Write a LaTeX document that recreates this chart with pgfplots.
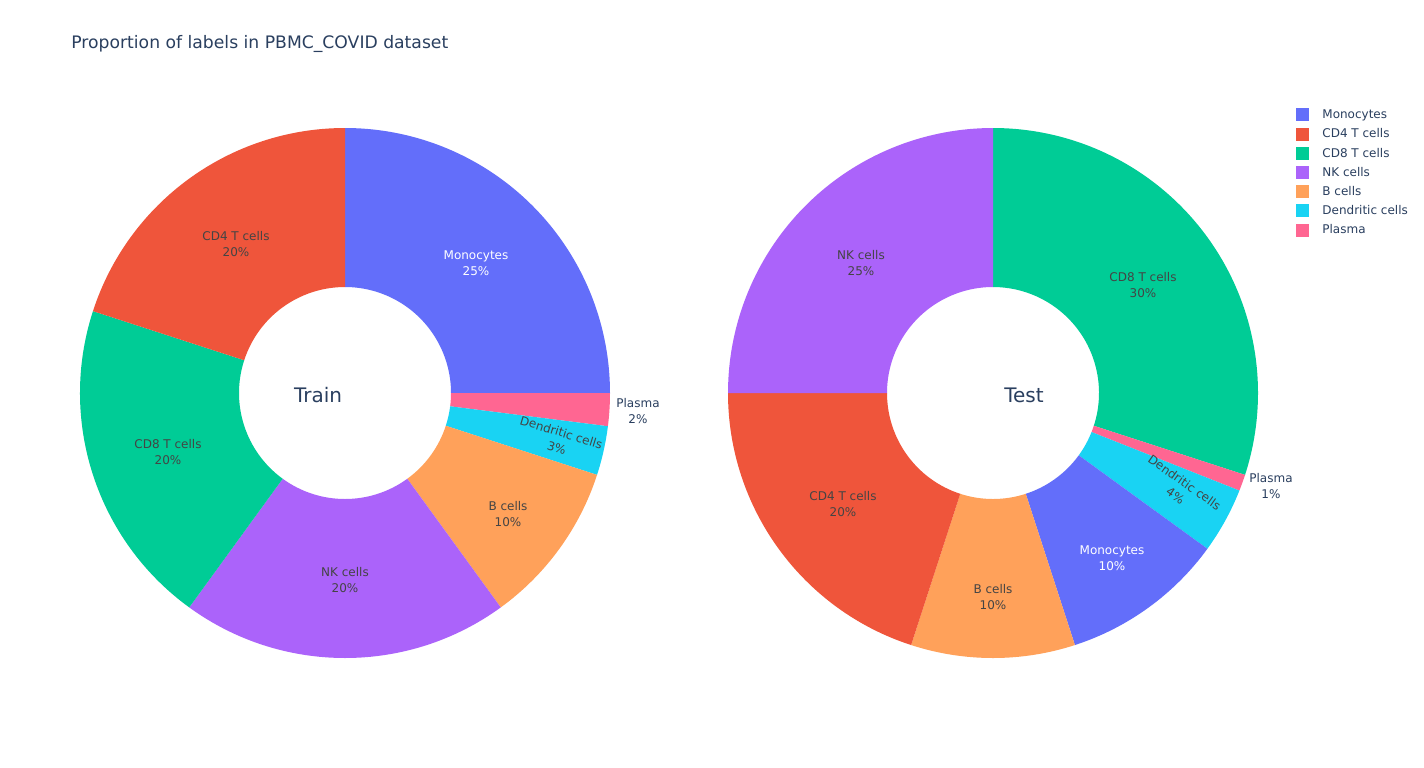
\documentclass[border=0pt]{standalone}
\usepackage{fontspec}
\setmainfont{DejaVu Sans}
\usepackage{pgfplots}
\usepackage{pgfplotstable}
\pgfplotsset{compat=1.18}
\definecolor{cMono}{HTML}{636EFA}
\definecolor{cCDf}{HTML}{EF553B}
\definecolor{cCDe}{HTML}{00CC96}
\definecolor{cNK}{HTML}{AB63FA}
\definecolor{cB}{HTML}{FFA15A}
\definecolor{cDC}{HTML}{19D3F3}
\definecolor{cPl}{HTML}{FF6692}
\definecolor{tdark}{HTML}{444444}
\definecolor{tout}{HTML}{2A3F5F}
\newcommand\lab{\fontsize{6}{8}\selectfont}

% name, share (%), colour, text colour, label x, label y (px), label rotation
\pgfplotstableread[col sep=comma]{
name,value,col,tcol,lx,ly,rot
Monocytes,25,cMono,white,476,262,0
Plasma,2,cPl,tout,638,410,0
Dendritic cells,3,cDC,tdark,559,439,-17
B cells,10,cB,tdark,508,513,0
NK cells,20,cNK,tdark,345,579,0
CD8 T cells,20,cCDe,tdark,168,451,0
CD4 T cells,20,cCDf,tdark,236,243,0
}\traintab
\pgfplotstableread[col sep=comma]{
name,value,col,tcol,lx,ly,rot
CD8 T cells,30,cCDe,tdark,1143,284,0
Plasma,1,cPl,tout,1271,485,0
Dendritic cells,4,cDC,tdark,1180,488,-35
Monocytes,10,cMono,white,1112,557,0
B cells,10,cB,tdark,993,596,0
CD4 T cells,20,cCDf,tdark,843,503,0
NK cells,25,cNK,tdark,861,262,0
}\testtab

\def\Ro{132.5pt}
\def\Ri{53pt}
\newcommand\drawslices[3]{%
  \def\cum{0}%
  \pgfplotsforeachungrouped \i in {0,...,6}{%
    \pgfplotstablegetelem{\i}{value}\of{#1}\let\v\pgfplotsretval
    \pgfplotstablegetelem{\i}{col}\of{#1}\let\c\pgfplotsretval
    \pgfmathsetmacro\aA{90-3.6*\cum}%
    \pgfmathsetmacro\cum{\cum+\v}%
    \pgfmathsetmacro\aB{90-3.6*\cum}%
    \edef\cmd{\noexpand\fill[\c] ([shift={(\aA:\Ro)}]axis cs:#2,#3) arc[start angle=\aA,end angle=\aB,radius=\Ro] -- ([shift={(\aB:\Ri)}]axis cs:#2,#3) arc[start angle=\aB,end angle=\aA,radius=\Ri] -- cycle;}%
    \cmd
  }}
\newcommand\drawlabels[1]{%
  \pgfplotsforeachungrouped \i in {0,...,6}{%
    \pgfplotstablegetelem{\i}{value}\of{#1}\let\v\pgfplotsretval
    \pgfplotstablegetelem{\i}{name}\of{#1}\let\nm\pgfplotsretval
    \pgfplotstablegetelem{\i}{tcol}\of{#1}\let\tc\pgfplotsretval
    \pgfplotstablegetelem{\i}{lx}\of{#1}\let\lx\pgfplotsretval
    \pgfplotstablegetelem{\i}{ly}\of{#1}\let\ly\pgfplotsretval
    \pgfplotstablegetelem{\i}{rot}\of{#1}\let\rot\pgfplotsretval
    \edef\cmd{\noexpand\node[text=\tc,rotate=\rot,align=center,inner sep=0pt,font=\noexpand\lab] at (axis cs:\lx,\ly+1) {\nm\noexpand\\\v\noexpand\%};}%
    \cmd
  }}

\begin{document}
\begin{tikzpicture}
\begin{axis}[
  scale only axis, width=712pt, height=383.5pt,
  xmin=0, xmax=1424, ymin=0, ymax=767, y dir=reverse,
  hide axis, clip=false,
  legend style={draw=none, fill=none, at={(axis cs:1296,107)}, anchor=north west,
    inner sep=0pt, font=\lab, text=tout, row sep=2.2pt, column sep=6pt,
    nodes={inner sep=0.6pt, text height=5pt, text depth=1.2pt}},
  legend cell align=left,
  legend image code/.code={\fill[#1] (0pt,-3pt) rectangle (6pt,3pt);},
]
\fill[white] (axis cs:0,0) rectangle (axis cs:1424,767);
\addlegendimage{cMono}\addlegendentry{Monocytes}
\addlegendimage{cCDf}\addlegendentry{CD4 T cells}
\addlegendimage{cCDe}\addlegendentry{CD8 T cells}
\addlegendimage{cNK}\addlegendentry{NK cells}
\addlegendimage{cB}\addlegendentry{B cells}
\addlegendimage{cDC}\addlegendentry{Dendritic cells}
\addlegendimage{cPl}\addlegendentry{Plasma}
\drawslices{\traintab}{345}{393}
\drawslices{\testtab}{993}{393}
\drawlabels{\traintab}
\drawlabels{\testtab}
\node[anchor=west, text=tout, font=\fontsize{8.6}{10}\selectfont, inner sep=0pt] at (axis cs:71,44) {Proportion of labels in PBMC\_COVID dataset};
\node[text=tout, font=\fontsize{10}{12}\selectfont, inner sep=0pt] at (axis cs:318,395) {Train};
\node[text=tout, font=\fontsize{10}{12}\selectfont, inner sep=0pt] at (axis cs:1024,395) {Test};
\end{axis}
\end{tikzpicture}
\end{document}
